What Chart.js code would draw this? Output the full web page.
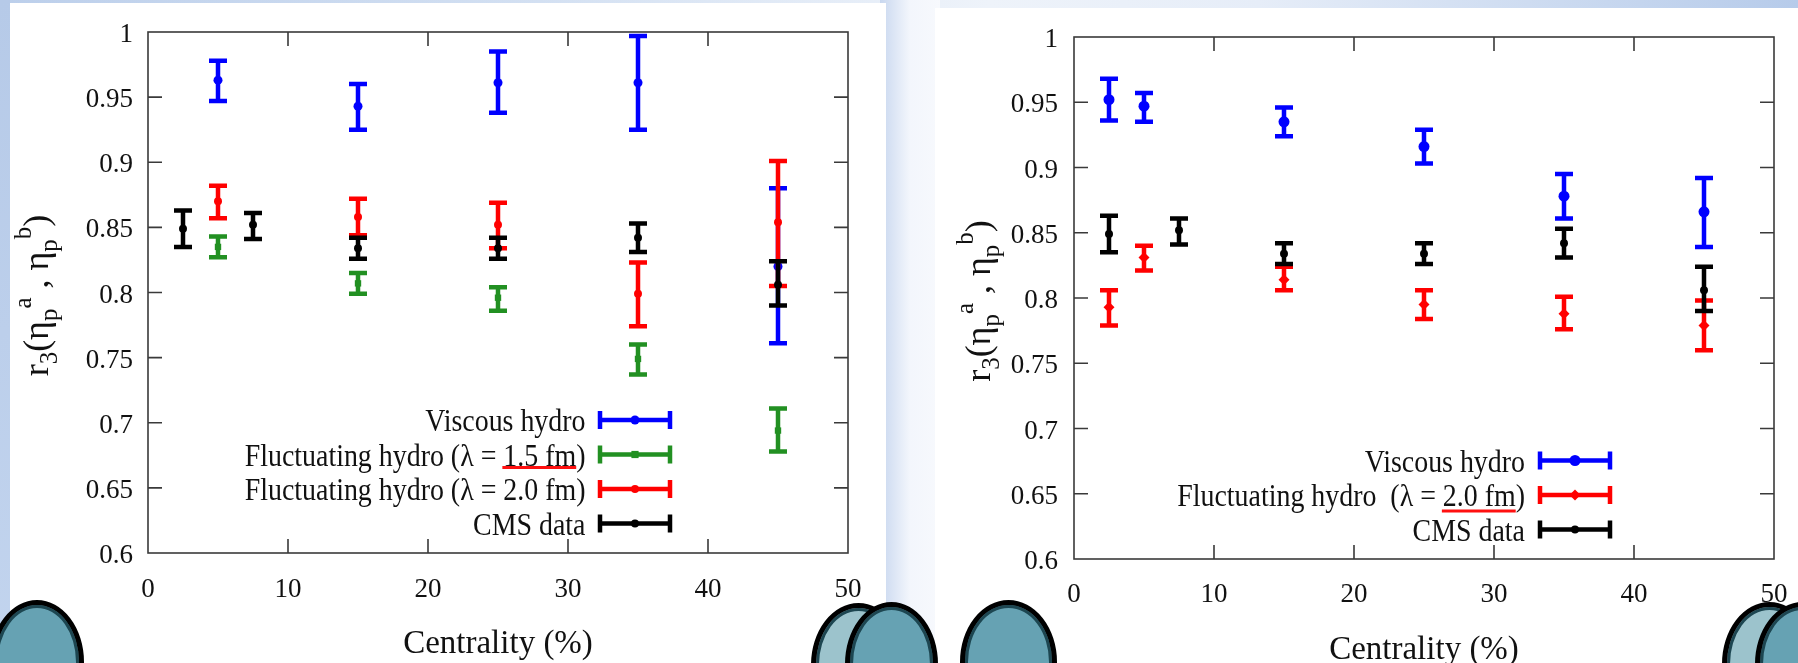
<!DOCTYPE html>
<html>
<head>
<meta charset="utf-8">
<script src="https://cdn.jsdelivr.net/npm/chart.js@4.4.0/dist/chart.umd.min.js"></script>
<style>
  html, body { margin: 0; padding: 0; }
  body { width: 1798px; height: 663px; position: relative; overflow: hidden; background: #f4f7fc; }
  .strip { position: absolute; }
  #topBand { left: 0; top: 0; width: 1798px; height: 12px;
    background: linear-gradient(to right, #bccfeb 0%, #d3e0f2 30%, #eef3fa 55%, #e6edf8 70%, #b6cbea 100%); }
  #leftStrip { left: 0; top: 0; width: 10px; height: 663px; background: linear-gradient(#b6cae8, #c2d4ee); }
  #gap { left: 880px; top: 0; width: 60px; height: 663px; background: linear-gradient(to right, #c8d7ef, #f3f6fc 50%, #f7f9fd); }
  .panel { position: absolute; background: #fff; }
  #leftPanel { left: 10px; top: 3px; width: 876px; height: 660px; }
  #rightPanel { left: 935px; top: 8px; width: 863px; height: 655px; }
  canvas { position: absolute; top: 0; }
  #leftChart { left: 10px; }
  #rightChart { left: 935px; }
  .dot { position: absolute; border-radius: 50%; border: 5px solid #000; box-sizing: border-box;
    box-shadow: inset 0 0 0 3px #1d4651; }
  .light { background: #9cc3cc; }
  .dark { background: #66a2b3; }
</style>
</head>
<body>
<div class="strip" id="topBand"></div>
<div class="strip" id="leftStrip"></div>
<div class="strip" id="gap"></div>
<div class="panel" id="leftPanel"></div>
<div class="panel" id="rightPanel"></div>
<canvas id="leftChart" width="876" height="663"></canvas>
<canvas id="rightChart" width="874" height="663"></canvas>

<!-- slide decoration circles -->
<div class="dot dark" style="left:-10px; top:600px; width:94px; height:124px;"></div>
<div class="dot light" style="left:811px; top:603px; width:95px; height:124px;"></div>
<div class="dot dark" style="left:845px; top:602px; width:93px; height:124px;"></div>
<div class="dot dark" style="left:960px; top:600px; width:97px; height:124px;"></div>
<div class="dot light" style="left:1722px; top:602px; width:95px; height:124px;"></div>
<div class="dot dark" style="left:1755px; top:602px; width:95px; height:124px;"></div>

<script>
// axis ticks
const xTicks = [0, 10, 20, 30, 40, 50];
const xTickLabels = ["0", "10", "20", "30", "40", "50"];
const yTicks = [0.6, 0.65, 0.7, 0.75, 0.8, 0.85, 0.9, 0.95, 1];
const yTickLabels = ["0.6", "0.65", "0.7", "0.75", "0.8", "0.85", "0.9", "0.95", "1"];

const xTitle = "Centrality (%)";
const legendViscous = "Viscous hydro";
const legendFluct15 = "Fluctuating hydro (\u03bb = 1.5 fm)";
const legendFluct20 = "Fluctuating hydro (\u03bb = 2.0 fm)";
const legendFluct20b = "Fluctuating hydro  (\u03bb = 2.0 fm)";
const legendCms = "CMS data";

// CMS data (same in both panels)
const cmsX = [2.5, 7.5, 15, 25, 35, 45];
const cmsY = [0.849, 0.852, 0.834, 0.834, 0.842, 0.806];
const cmsLo = [0.835, 0.841, 0.826, 0.826, 0.831, 0.790];
const cmsHi = [0.863, 0.861, 0.842, 0.842, 0.853, 0.824];

// left panel
const leftX = [5, 15, 25, 35, 45];
const leftViscY = [0.963, 0.943, 0.961, 0.961, 0.820];
const leftViscLo = [0.947, 0.925, 0.938, 0.925, 0.761];
const leftViscHi = [0.978, 0.960, 0.985, 0.997, 0.880];

const leftFluct15Y = [0.835, 0.807, 0.796, 0.749, 0.694];
const leftFluct15Lo = [0.827, 0.799, 0.786, 0.737, 0.678];
const leftFluct15Hi = [0.843, 0.815, 0.804, 0.760, 0.711];

const leftFluct20Y = [0.870, 0.858, 0.852, 0.799, 0.854];
const leftFluct20Lo = [0.857, 0.844, 0.834, 0.774, 0.805];
const leftFluct20Hi = [0.882, 0.872, 0.869, 0.823, 0.901];

// right panel
const rightX = [2.5, 5, 15, 25, 35, 45];
const rightViscY = [0.952, 0.947, 0.935, 0.916, 0.878, 0.866];
const rightViscLo = [0.936, 0.935, 0.924, 0.903, 0.861, 0.839];
const rightViscHi = [0.968, 0.957, 0.946, 0.929, 0.895, 0.892];

const rightFluct20Y = [0.793, 0.831, 0.814, 0.795, 0.788, 0.779];
const rightFluct20Lo = [0.779, 0.821, 0.806, 0.784, 0.776, 0.760];
const rightFluct20Hi = [0.806, 0.840, 0.824, 0.806, 0.801, 0.798];

const serif = "'Liberation Serif', 'Times New Roman', serif";
Chart.defaults.font.family = serif;
Chart.defaults.color = "#111";

function points(xs, ys) {
  return xs.map((x, i) => ({ x: x, y: ys[i] }));
}

function series(label, color, xs, ys, lo, hi, style, radius, order) {
  return {
    label: label,
    data: points(xs, ys),
    yLo: lo,
    yHi: hi,
    borderColor: color,
    backgroundColor: color,
    pointStyle: style,
    pointRadius: radius,
    pointBorderWidth: 0,
    showLine: false,
    clip: false,
    order: order,
  };
}

// draws marker for legend sample
function marker(ctx, style, x, y, r) {
  ctx.beginPath();
  if (style === "rect") {
    ctx.rect(x - r * 0.8, y - r * 0.8, r * 1.6, r * 1.6);
  } else if (style === "rectRot") {
    ctx.moveTo(x, y - r); ctx.lineTo(x + r, y); ctx.lineTo(x, y + r); ctx.lineTo(x - r, y);
    ctx.closePath();
  } else {
    ctx.arc(x, y, r, 0, Math.PI * 2);
  }
  ctx.fill();
}

// gnuplot style: frame, inward ticks, error bars, legend, titles
const gnuplotLook = {
  id: "gnuplotLook",
  beforeDatasetsDraw(chart) {
    const ctx = chart.ctx, a = chart.chartArea;
    const xs = chart.scales.x, ys = chart.scales.y;
    ctx.save();
    ctx.strokeStyle = "#3a3a3a";
    ctx.lineWidth = 1.6;
    ctx.strokeRect(a.left, a.top, a.right - a.left, a.bottom - a.top);
    ctx.beginPath();
    yTicks.slice(1, -1).forEach((v) => {
      const py = ys.getPixelForValue(v);
      ctx.moveTo(a.left, py); ctx.lineTo(a.left + 14, py);
      ctx.moveTo(a.right, py); ctx.lineTo(a.right - 14, py);
    });
    xTicks.slice(1, -1).forEach((v) => {
      const px = xs.getPixelForValue(v);
      ctx.moveTo(px, a.bottom); ctx.lineTo(px, a.bottom - 14);
      ctx.moveTo(px, a.top); ctx.lineTo(px, a.top + 14);
    });
    ctx.stroke();
    ctx.restore();
  },
  beforeDatasetDraw(chart, args) {
    const ds = chart.data.datasets[args.index];
    const ctx = chart.ctx;
    const xs = chart.scales.x, ys = chart.scales.y;
    const cap = 9;
    ctx.save();
    ctx.strokeStyle = ds.borderColor;
    ctx.lineWidth = 4.5;
    ctx.beginPath();
    ds.data.forEach((p, i) => {
      const px = xs.getPixelForValue(p.x);
      const top = ys.getPixelForValue(ds.yHi[i]);
      const bot = ys.getPixelForValue(ds.yLo[i]);
      ctx.moveTo(px, top); ctx.lineTo(px, bot);
      ctx.moveTo(px - cap, top); ctx.lineTo(px + cap, top);
      ctx.moveTo(px - cap, bot); ctx.lineTo(px + cap, bot);
    });
    ctx.stroke();
    ctx.restore();
  },
  afterDatasetsDraw(chart, args, opts) {
    const ctx = chart.ctx, a = chart.chartArea;
    ctx.save();
    // legend, text a bit taller than wide like the original figure
    const sx = 0.9;
    ctx.font = "31px " + serif;
    ctx.textAlign = "right";
    ctx.textBaseline = "alphabetic";
    const rows = chart.data.datasets.slice().sort((p, q) => q.order - p.order);
    rows.forEach((ds, i) => {
      const y = a.top + opts.legendTop + i * opts.legendStep;
      const tx = a.left + opts.legendText;
      ctx.fillStyle = "#111";
      ctx.save();
      ctx.translate(tx, y + 11);
      ctx.scale(sx, 1);
      ctx.fillText(ds.label, 0, 0);
      ctx.restore();
      if (ds.underline) {
        const full = ctx.measureText(ds.label).width * sx;
        const start = ds.label.indexOf(ds.underline);
        const x0 = tx - full + ctx.measureText(ds.label.slice(0, start)).width * sx;
        const x1 = x0 + ctx.measureText(ds.underline).width * sx;
        ctx.strokeStyle = "#ff1010";
        ctx.lineWidth = 3;
        ctx.beginPath();
        ctx.moveTo(x0 - 1, y + opts.underlineDy); ctx.lineTo(x1, y + opts.underlineDy);
        ctx.stroke();
      }
      const s0 = a.left + opts.sampleLeft, s1 = s0 + 70;
      ctx.strokeStyle = ds.borderColor;
      ctx.lineWidth = 4.5;
      ctx.beginPath();
      ctx.moveTo(s0, y); ctx.lineTo(s1, y);
      ctx.moveTo(s0, y - 9); ctx.lineTo(s0, y + 9);
      ctx.moveTo(s1, y - 9); ctx.lineTo(s1, y + 9);
      ctx.stroke();
      ctx.fillStyle = ds.borderColor;
      marker(ctx, ds.pointStyle, (s0 + s1) / 2, y, ds.pointRadius);
    });

    // x title
    ctx.fillStyle = "#111";
    ctx.font = "33px " + serif;
    ctx.textAlign = "center";
    ctx.textBaseline = "middle";
    ctx.fillText(xTitle, (a.left + a.right) / 2, a.bottom + 91);

    // y title with sub/superscripts
    const parts = [
      ["r", 0], ["3", 1], ["(\u03b7", 0], ["p", 1], ["a", 2], [" , \u03b7", 0], ["p", 1], ["b", 2], [")", 0],
    ];
    const fontFor = (k) => (k === 0 ? "36px " : "25px ") + serif;
    const dyFor = [0, 9, -17];
    let total = 0;
    parts.forEach((p) => { ctx.font = fontFor(p[1]); total += ctx.measureText(p[0]).width; });
    ctx.translate(opts.yTitleX, (a.top + a.bottom) / 2 + 3);
    ctx.rotate(-Math.PI / 2);
    ctx.textAlign = "left";
    ctx.textBaseline = "alphabetic";
    let cx = -total / 2;
    parts.forEach((p) => {
      ctx.font = fontFor(p[1]);
      ctx.fillText(p[0], cx, dyFor[p[1]]);
      cx += ctx.measureText(p[0]).width;
    });
    ctx.restore();
  },
};

function makeChart(id, datasets, box) {
  return new Chart(document.getElementById(id), {
    type: "scatter",
    data: { datasets: datasets },
    options: {
      responsive: false,
      animation: false,
      events: [],
      layout: { padding: { left: 0, top: box.top, right: box.right, bottom: 0 } },
      plugins: {
        legend: { display: false },
        tooltip: { enabled: false },
        gnuplotLook: box.look,
      },
      scales: {
        x: {
          type: "linear",
          min: 0,
          max: 50,
          grid: { display: false, drawTicks: false },
          border: { display: false },
          afterBuildTicks: (s) => { s.ticks = xTicks.map((v) => ({ value: v })); },
          afterFit: (s) => { s.height = box.xHeight; },
          ticks: {
            font: { size: 27 },
            color: "#111",
            padding: box.xPad,
            maxRotation: 0,
            callback: (v, i) => xTickLabels[i],
          },
        },
        y: {
          type: "linear",
          min: 0.6,
          max: 1,
          grid: { display: false, drawTicks: false },
          border: { display: false },
          afterBuildTicks: (s) => { s.ticks = yTicks.map((v) => ({ value: v })); },
          afterFit: (s) => { s.width = box.yWidth; },
          ticks: {
            font: { size: 27 },
            color: "#111",
            padding: box.yPad,
            labelOffset: 3,
            callback: (v, i) => yTickLabels[i],
          },
        },
      },
    },
    plugins: [gnuplotLook],
  });
}

window.addEventListener("load", () => {
  const leftSets = [
    series(legendViscous, "#0000ff", leftX, leftViscY, leftViscLo, leftViscHi, "circle", 4.5, 4),
    series(legendFluct15, "#229022", leftX, leftFluct15Y, leftFluct15Lo, leftFluct15Hi, "rect", 4.5, 3),
    series(legendFluct20, "#ff0000", leftX, leftFluct20Y, leftFluct20Lo, leftFluct20Hi, "circle", 4, 2),
    series(legendCms, "#000000", cmsX, cmsY, cmsLo, cmsHi, "circle", 4, 1),
  ];
  leftSets[1].underline = "1.5 fm";
  // canvas at page x 10: plot area 148..848 x 32..553
  makeChart("leftChart", leftSets, {
    top: 32, right: 38, xHeight: 110, yWidth: 138, xPad: 21, yPad: 15,
    look: { legendTop: 388, legendStep: 34.5, legendText: 437.5, sampleLeft: 452, underlineDy: 13, yTitleX: 38 },
  });

  const rightSets = [
    series(legendViscous, "#0000ff", rightX, rightViscY, rightViscLo, rightViscHi, "circle", 5.5, 3),
    series(legendFluct20b, "#ff0000", rightX, rightFluct20Y, rightFluct20Lo, rightFluct20Hi, "rectRot", 5.5, 2),
    series(legendCms, "#000000", cmsX, cmsY, cmsLo, cmsHi, "circle", 4, 1),
  ];
  rightSets[1].underline = "2.0 fm";
  // canvas at page x 935: plot area 1074..1774 x 37..559
  makeChart("rightChart", rightSets, {
    top: 37, right: 35, xHeight: 104, yWidth: 139, xPad: 20, yPad: 16,
    look: { legendTop: 423.5, legendStep: 34.5, legendText: 451, sampleLeft: 466, underlineDy: 16, yTitleX: 55 },
  });
});
</script>
</body>
</html>
